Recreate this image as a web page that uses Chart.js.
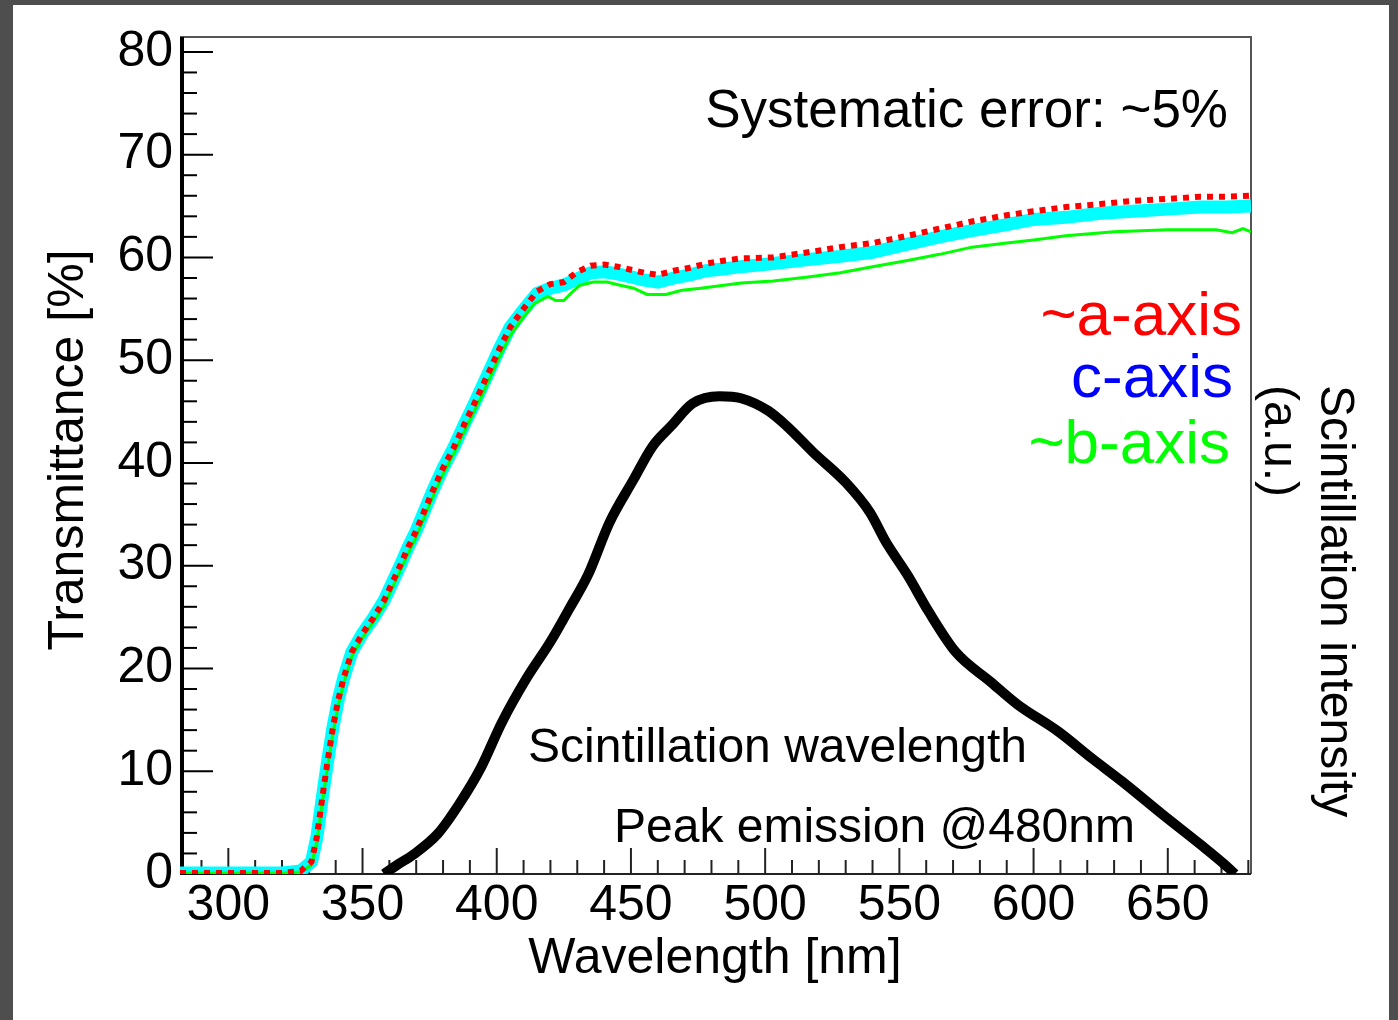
<!DOCTYPE html>
<html>
<head>
<meta charset="utf-8">
<title>Transmittance vs wavelength</title>
<script src="https://cdn.jsdelivr.net/npm/chart.js@4.4.1/dist/chart.umd.min.js"></script>
<style>
  html, body { margin: 0; padding: 0; background: #4e4e4e; overflow: hidden; }
  #wrap { width: 1398px; height: 1020px; }
  canvas { display: block; }
</style>
</head>
<body>
<div id="wrap"><canvas id="chart" width="1398" height="1020"></canvas></div>
<script>
// wavelengths (nm) shared by the ~a-axis and c-axis scans
const transWl = [282, 290, 300, 310, 320, 327, 331, 333, 335, 337, 339, 341, 343, 346, 350,
  354, 358, 361, 364, 367, 370, 373, 376, 380, 384, 388, 391, 394, 397, 401, 405, 410, 415,
  420, 425, 430, 435, 440, 445, 450, 455, 460, 466, 472, 478, 485, 491, 503, 516, 528, 540,
  553, 565, 577, 590, 600, 612, 625, 637, 650, 662, 672, 681];
const aAxis = [0.1, 0.1, 0.1, 0.1, 0.1, 0.3, 1.2, 3.6, 7.4, 11.0, 14.3, 17.0, 19.1, 21.6, 23.4,
  24.9, 26.6, 28.3, 30.0, 31.8, 33.4, 35.3, 37.2, 39.5, 41.5, 43.8, 45.4, 47.1, 48.8, 51.1, 53.2,
  55.0, 56.7, 57.4, 57.6, 58.6, 59.2, 59.3, 59.1, 58.8, 58.5, 58.3, 58.7, 59.0, 59.4, 59.7, 59.9,
  60.0, 60.5, 61.0, 61.4, 62.1, 62.8, 63.5, 64.1, 64.5, 64.9, 65.2, 65.5, 65.7, 65.9, 65.9, 66.0];
const cAxis = [0.1, 0.1, 0.1, 0.1, 0.1, 0.3, 1.2, 3.6, 7.4, 11.0, 14.3, 17.0, 19.1, 21.6, 23.4,
  24.9, 26.6, 28.3, 30.0, 31.8, 33.4, 35.3, 37.2, 39.5, 41.5, 43.8, 45.4, 47.1, 48.8, 51.1, 53.2,
  54.9, 56.5, 57.0, 57.3, 57.9, 58.5, 58.6, 58.4, 58.1, 57.8, 57.6, 58.0, 58.3, 58.7, 58.9, 59.1,
  59.4, 59.8, 60.1, 60.5, 61.3, 62.0, 62.6, 63.2, 63.7, 63.9, 64.3, 64.5, 64.7, 64.9, 64.9, 65.0];

// ~b-axis scan
const bWl = [282, 290, 300, 310, 320, 327, 331, 333, 335, 337, 339, 341, 343, 346, 350,
  354, 358, 361, 364, 367, 370, 373, 376, 380, 384, 388, 391, 394, 397, 401, 405, 410, 414,
  419, 422, 425, 428, 431, 436, 441, 446, 451, 456, 463, 469, 476, 491, 503, 516, 528, 540,
  553, 565, 577, 590, 600, 612, 630, 650, 668, 674, 678, 681];
const bAxis = [0.1, 0.1, 0.1, 0.1, 0.1, 0.2, 0.9, 3.2, 7.0, 10.5, 13.8, 16.5, 18.6, 21.2, 23.0,
  24.5, 26.1, 27.8, 29.5, 31.2, 32.8, 34.7, 36.6, 38.9, 40.9, 43.1, 44.7, 46.3, 48.0, 50.3, 52.4,
  54.2, 55.5, 56.2, 55.8, 55.8, 56.6, 57.3, 57.6, 57.6, 57.3, 57.0, 56.4, 56.4, 56.8, 57.0, 57.5,
  57.7, 58.1, 58.5, 59.1, 59.7, 60.3, 61.0, 61.4, 61.7, 62.1, 62.5, 62.7, 62.7, 62.4, 62.8, 62.5];

// scintillation emission spectrum (a.u.)
const scintWl = [358, 363, 369, 378, 386, 394, 402, 411, 420, 427, 434, 442, 451, 458, 465,
  473, 483, 491, 501, 508, 518, 530, 539, 545, 553, 561, 571, 584, 594, 609, 622, 633, 648,
  662, 673, 675];
const scint = [0, 0.9, 1.9, 3.9, 6.8, 10.3, 14.8, 19.0, 22.6, 25.8, 29.1, 34.2, 38.4, 41.6, 43.6,
  45.8, 46.5, 46.3, 45.1, 43.6, 41.0, 38.1, 35.2, 32.3, 29.1, 25.5, 21.6, 18.7, 16.5, 13.9, 11.2,
  9.0, 5.8, 2.9, 0.5, 0];

const xTickLabels = [300, 350, 400, 450, 500, 550, 600, 650];
const yTickLabels = [0, 10, 20, 30, 40, 50, 60, 70, 80];

const FONT = "'Liberation Sans', Arial, Helvetica, sans-serif";
Chart.defaults.font.family = FONT;
Chart.defaults.color = "#000";

const pts = (xs, ys) => xs.map((x, i) => ({ x: x, y: ys[i] }));

// minor tick positions: every 10 nm / every 2 %
function stepTicks(from, to, step) {
  const out = [];
  for (let v = from; v <= to; v += step) out.push({ value: v });
  return out;
}

// annotations drawn over the plot
const notes = [
  { text: "Systematic error: ~5%", x: 1228, y: 127, size: 53, color: "#000", align: "right" },
  { text: "~a-axis", x: 1242, y: 335, size: 62, color: "#ff0000", align: "right" },
  { text: "c-axis", x: 1233, y: 397, size: 62, color: "#0000ff", align: "right" },
  { text: "~b-axis", x: 1230, y: 463, size: 62, color: "#00ff00", align: "right" },
  { text: "Scintillation wavelength", x: 528, y: 762, size: 48, color: "#000", align: "left" },
  { text: "Peak emission @480nm", x: 614, y: 842, size: 48, color: "#000", align: "left" },
  { text: "Wavelength [nm]", x: 715, y: 973, size: 50, color: "#000", align: "center" },
  { text: "Transmittance [%]", x: 83, y: 450, size: 50, color: "#000", align: "center", rot: -90 },
  { text: "Scintillation intensity", x: 1321, y: 385, size: 48, color: "#000", align: "left", rot: 90 },
  { text: "(a.u.)", x: 1265, y: 385, size: 48, color: "#000", align: "left", rot: 90 }
];

const framePlugin = {
  id: "frame",
  beforeDraw(chart) {
    const ctx = chart.ctx;
    ctx.save();
    ctx.fillStyle = "#4e4e4e";
    ctx.fillRect(0, 0, chart.width, chart.height);
    ctx.fillStyle = "#fff";
    ctx.fillRect(13, 5, 1376, chart.height - 5);
    ctx.restore();
  },
  beforeDatasetsDraw(chart) {
    const { ctx, chartArea: a, scales } = chart;
    const x = scales.x, y = scales.y;
    ctx.save();
    // top and right frame
    ctx.strokeStyle = "#555";
    ctx.lineWidth = 2;
    ctx.beginPath();
    ctx.moveTo(a.left, a.top);
    ctx.lineTo(a.right, a.top);
    ctx.lineTo(a.right, a.bottom);
    ctx.stroke();
    // bottom axis with inward ticks
    ctx.strokeStyle = "#222";
    ctx.beginPath();
    ctx.moveTo(a.left, a.bottom);
    ctx.lineTo(a.right, a.bottom);
    ctx.stroke();
    x.ticks.forEach((t) => {
      const px = x.getPixelForValue(t.value);
      const len = xTickLabels.includes(t.value) ? 26 : 14;
      ctx.beginPath();
      ctx.moveTo(px, a.bottom);
      ctx.lineTo(px, a.bottom - len);
      ctx.stroke();
    });
    // left axis
    ctx.strokeStyle = "#000";
    y.ticks.forEach((t) => {
      const py = y.getPixelForValue(t.value);
      const len = yTickLabels.includes(t.value) ? 33 : 17;
      ctx.beginPath();
      ctx.moveTo(a.left, py);
      ctx.lineTo(a.left + len, py);
      ctx.stroke();
    });
    ctx.lineWidth = 4;
    ctx.beginPath();
    ctx.moveTo(a.left + 2, a.top);
    ctx.lineTo(a.left + 2, a.bottom + 1);
    ctx.stroke();
    ctx.restore();
  },
  afterDraw(chart) {
    const ctx = chart.ctx;
    notes.forEach((n) => {
      ctx.save();
      ctx.font = n.size + "px " + FONT;
      ctx.fillStyle = n.color;
      ctx.textAlign = n.align;
      ctx.textBaseline = "alphabetic";
      ctx.translate(n.x, n.y);
      if (n.rot) ctx.rotate((n.rot * Math.PI) / 180);
      ctx.fillText(n.text, 0, 0);
      ctx.restore();
    });
  }
};

new Chart(document.getElementById("chart"), {
  type: "line",
  data: {
    datasets: [
      {
        label: "c-axis",
        data: pts(transWl, cAxis),
        borderColor: "#00ffff",
        borderWidth: 13,
        order: 4
      },
      {
        label: "~b-axis",
        data: pts(bWl, bAxis),
        borderColor: "#00ff00",
        borderWidth: 3,
        order: 3
      },
      {
        label: "~a-axis",
        data: pts(transWl, aAxis),
        borderColor: "#ff0000",
        borderWidth: 6,
        borderDash: [6, 6],
        borderCapStyle: "butt",
        order: 2
      },
      {
        label: "Scintillation",
        data: pts(scintWl, scint),
        borderColor: "#000",
        borderWidth: 10,
        cubicInterpolationMode: "monotone",
        yAxisID: "y2",
        order: 1
      }
    ]
  },
  options: {
    responsive: false,
    animation: false,
    devicePixelRatio: 1,
    elements: { point: { radius: 0 }, line: { tension: 0, fill: false } },
    layout: { autoPadding: false, padding: { left: 13, top: 33, right: 147, bottom: 0 } },
    plugins: { legend: { display: false }, tooltip: { enabled: false } },
    scales: {
      x: {
        type: "linear",
        min: 282,
        max: 681,
        grid: { display: false, drawTicks: false },
        border: { display: false },
        afterFit: (s) => { s.height = 146; },
        afterBuildTicks: (s) => { s.ticks = stepTicks(290, 680, 10); },
        ticks: {
          autoSkip: false,
          maxRotation: 0,
          padding: 2,
          font: { size: 50 },
          color: "#000",
          callback: (v) => (xTickLabels.includes(v) ? String(v) : "")
        }
      },
      y: {
        type: "linear",
        min: 0,
        max: 81.45,
        grid: { display: false, drawTicks: false },
        border: { display: false },
        afterFit: (s) => { s.width = 167; },
        afterBuildTicks: (s) => { s.ticks = stepTicks(0, 80, 2); },
        ticks: {
          autoSkip: false,
          padding: 7,
          font: { size: 50 },
          color: "#000",
          callback: (v) => (yTickLabels.includes(v) ? String(v) : "")
        }
      },
      y2: {
        type: "linear",
        display: false,
        min: 0,
        max: 81.45
      }
    }
  },
  plugins: [framePlugin]
});
</script>
</body>
</html>
